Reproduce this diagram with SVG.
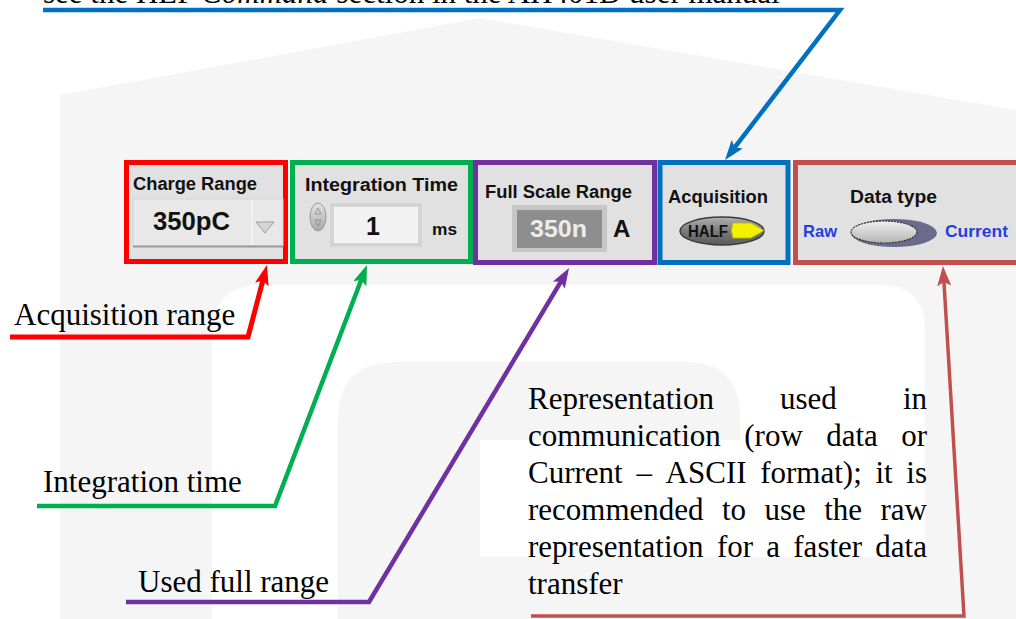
<svg xmlns="http://www.w3.org/2000/svg" width="1016" height="619" viewBox="0 0 1016 619">
<style>
.lbl{font-family:"Liberation Serif","Times New Roman",serif;font-size:31px;fill:#000}
.ui{font-family:"Liberation Sans",Arial,sans-serif;font-weight:bold;fill:#111}
.box{fill:#e1e1e1}
.conn{fill:none;stroke-linejoin:miter}
.wm{fill:#f5f5f5}
</style>
<defs>
<marker id="ahRed" markerUnits="userSpaceOnUse" markerWidth="22" markerHeight="16" refX="10" refY="7" orient="auto"><path d="M0,0 L20,7 L0,14 L4,7 z" fill="#ff0000"/></marker>
<marker id="ahGreen" markerUnits="userSpaceOnUse" markerWidth="22" markerHeight="16" refX="10" refY="7" orient="auto"><path d="M0,0 L20,7 L0,14 L4,7 z" fill="#00b050"/></marker>
<marker id="ahPurple" markerUnits="userSpaceOnUse" markerWidth="22" markerHeight="16" refX="10" refY="7" orient="auto"><path d="M0,0 L20,7 L0,14 L4,7 z" fill="#7030a0"/></marker>
<marker id="ahBlue" markerUnits="userSpaceOnUse" markerWidth="22" markerHeight="16" refX="10" refY="7" orient="auto"><path d="M0,0 L20,7 L0,14 L4,7 z" fill="#0070c0"/></marker>
<marker id="ahBrown" markerUnits="userSpaceOnUse" markerWidth="22" markerHeight="16" refX="10" refY="7" orient="auto"><path d="M0,0 L20,7 L0,14 L4,7 z" fill="#c0504d"/></marker>
<linearGradient id="gSpin" x1="0" y1="0" x2="0" y2="1"><stop offset="0" stop-color="#e4e4e4"/><stop offset="1" stop-color="#a8a8a8"/></linearGradient>
<linearGradient id="gHalf" x1="0" y1="0" x2="0" y2="1"><stop offset="0" stop-color="#b0b0b0"/><stop offset="0.5" stop-color="#7c7c7c"/><stop offset="1" stop-color="#5a5a5a"/></linearGradient>
<linearGradient id="gTog" x1="0" y1="0" x2="0" y2="1"><stop offset="0" stop-color="#f0f0f0"/><stop offset="1" stop-color="#b4b4b4"/></linearGradient>
</defs>

<!-- background watermark -->
<rect width="1016" height="619" fill="#ffffff"/>
<path class="wm" d="M60,619 V95 L480,18 L1016,110 V619 Z"/>
<path d="M212,619 V335 Q212,285 262,285 H880 Q925,285 925,330 V619 Z" fill="#ffffff"/>
<path class="wm" d="M338,619 V420 Q338,362 396,362 H685 Q740,362 740,417 V440 H480 V557 H925 V619 Z"/>

<!-- top (clipped) text -->
<text class="lbl" x="43" y="3">see the HLP <tspan font-style="italic">Command</tspan> section in the AH401D user manual</text>

<!-- Charge Range node -->
<g id="charge-range">
<rect class="box" x="126.5" y="162.5" width="159" height="99" stroke="#ff0000" stroke-width="5"/>
<text class="ui" x="133" y="190" font-size="18" textLength="124" lengthAdjust="spacingAndGlyphs">Charge Range</text>
<rect x="133" y="199" width="150" height="47" fill="#e8e8e8" stroke="#d4d4d4" stroke-width="1"/>
<line x1="133" y1="246.5" x2="283" y2="246.5" stroke="#9a9a9a" stroke-width="2"/>
<line x1="252" y1="200" x2="252" y2="245" stroke="#f4f4f4" stroke-width="1.5"/>
<text class="ui" x="153" y="230" font-size="25" textLength="77" lengthAdjust="spacingAndGlyphs">350pC</text>
<path d="M256,222 L274,222 L265,233 Z" fill="#d4d4d4" stroke="#a0a0a0" stroke-width="1"/>
</g>

<!-- Integration Time node -->
<g id="integration-time">
<rect class="box" x="292.5" y="162.5" width="178" height="99" stroke="#00b050" stroke-width="5"/>
<text class="ui" x="305" y="191" font-size="18" textLength="153" lengthAdjust="spacingAndGlyphs">Integration Time</text>
<ellipse cx="318" cy="217" rx="8" ry="14" fill="url(#gSpin)" stroke="#9a9a9a" stroke-width="1"/>
<path d="M315,214 L318,208 L321,214 Z M315,220 L318,226 L321,220 Z" fill="none" stroke="#8a8a8a" stroke-width="0.8"/>
<rect x="330" y="203" width="92" height="44" fill="#d6d6d6"/>
<rect x="333" y="206" width="86" height="38" fill="#f2f2f2" stroke="#c4c4c4" stroke-width="1"/>
<text class="ui" x="373" y="235" font-size="25" text-anchor="middle">1</text>
<text class="ui" x="432" y="235" font-size="17" textLength="25" lengthAdjust="spacingAndGlyphs">ms</text>
</g>

<!-- Full Scale Range node -->
<g id="full-scale-range">
<rect class="box" x="475.5" y="162.5" width="179" height="100" stroke="#7030a0" stroke-width="5"/>
<text class="ui" x="485" y="198" font-size="18" textLength="147" lengthAdjust="spacingAndGlyphs">Full Scale Range</text>
<rect x="512" y="205" width="95" height="47" fill="#c6c6c6"/>
<rect x="517" y="210" width="85" height="38" fill="#8e8e8e"/>
<text class="ui" x="530" y="237" font-size="24" style="fill:#ececec" textLength="57" lengthAdjust="spacingAndGlyphs">350n</text>
<text class="ui" x="613" y="237" font-size="24">A</text>
</g>

<!-- Acquisition node -->
<g id="acquisition">
<rect class="box" x="660" y="162.5" width="128" height="100" stroke="#0070c0" stroke-width="5"/>
<text class="ui" x="668" y="203" font-size="18" textLength="100" lengthAdjust="spacingAndGlyphs">Acquisition</text>
<ellipse cx="722" cy="231" rx="42" ry="14" fill="url(#gHalf)" stroke="#3a3a3a" stroke-width="1.5"/>
<text class="ui" x="688" y="237" font-size="16" textLength="40" lengthAdjust="spacingAndGlyphs">HALF</text>
<path d="M733,223 H751 L764,230.5 L751,238 H733 Q730,230.5 733,223 Z" fill="#f2f200" stroke="#b8b800" stroke-width="0.8"/>
</g>

<!-- Data type node -->
<g id="data-type">
<rect class="box" x="795.5" y="162.5" width="240" height="100" stroke="#c0504d" stroke-width="5"/>
<text class="ui" x="850" y="203" font-size="18" textLength="87" lengthAdjust="spacingAndGlyphs">Data type</text>
<text class="ui" x="803" y="237" font-size="17" style="fill:#1f3fdf" textLength="34" lengthAdjust="spacingAndGlyphs">Raw</text>
<text class="ui" x="945" y="237" font-size="17" style="fill:#1f3fdf" textLength="63" lengthAdjust="spacingAndGlyphs">Current</text>
<ellipse cx="894" cy="233" rx="43" ry="14" fill="#6a6a8c"/>
<ellipse cx="884" cy="232" rx="33" ry="11" fill="url(#gTog)" stroke="#333" stroke-width="1.2" stroke-dasharray="2,1"/>
</g>

<!-- Labels -->
<g id="label-acquisition-range"><text class="lbl" x="14" y="325">Acquisition range</text></g>
<g id="label-integration-time"><text class="lbl" x="43" y="492">Integration time</text></g>
<g id="label-used-full-range"><text class="lbl" x="138" y="592">Used full range</text></g>
<g id="label-representation">
<text class="lbl" x="528" y="409">Representation</text><text class="lbl" x="780" y="409">used</text><text class="lbl" x="927" y="409" text-anchor="end">in</text>
<text class="lbl" x="528" y="446">communication</text><text class="lbl" x="744.3" y="446">(row</text><text class="lbl" x="826.2" y="446">data</text><text class="lbl" x="927" y="446" text-anchor="end">or</text>
<text class="lbl" x="528" y="483">Current</text><text class="lbl" x="636.4" y="483">–</text><text class="lbl" x="665.6" y="483">ASCII</text><text class="lbl" x="760.2" y="483">format);</text><text class="lbl" x="875.5" y="483">it</text><text class="lbl" x="927" y="483" text-anchor="end">is</text>
<text class="lbl" x="528" y="520">recommended</text><text class="lbl" x="722" y="520">to</text><text class="lbl" x="764.5" y="520">use</text><text class="lbl" x="824.2" y="520">the</text><text class="lbl" x="927" y="520" text-anchor="end">raw</text>
<text class="lbl" x="528" y="557">representation</text><text class="lbl" x="716.9" y="557">for</text><text class="lbl" x="766.3" y="557">a</text><text class="lbl" x="793.3" y="557">faster</text><text class="lbl" x="927" y="557" text-anchor="end">data</text>
<text class="lbl" x="528" y="594">transfer</text>
</g>

<!-- Connectors -->
<g id="connectors">
<path class="conn" d="M43,10 H840 L731.1,152.1" stroke="#0070c0" stroke-width="4.5" marker-end="url(#ahBlue)"/>
<path class="conn" d="M10,337 H248 L264.4,274.7" stroke="#ff0000" stroke-width="5" marker-end="url(#ahRed)"/>
<path class="conn" d="M37,506 H275 L363.4,274.3" stroke="#00b050" stroke-width="4.5" marker-end="url(#ahGreen)"/>
<path class="conn" d="M126,602 H369 L563.9,276.6" stroke="#7030a0" stroke-width="4.5" marker-end="url(#ahPurple)"/>
<path class="conn" d="M531,616 H964 L943.6,276" stroke="#c0504d" stroke-width="3.5" marker-end="url(#ahBrown)"/>
</g>
</svg>
